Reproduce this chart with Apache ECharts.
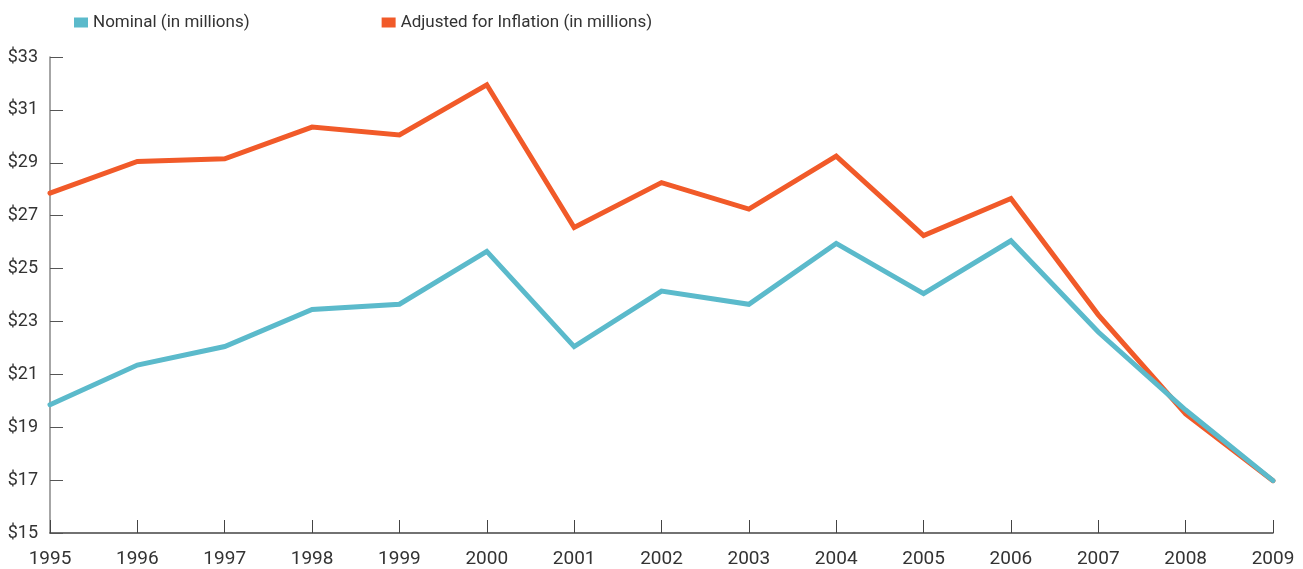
<!DOCTYPE html>
<html>
<head>
<meta charset="utf-8">
<script src="https://cdn.jsdelivr.net/npm/echarts@6/dist/echarts.min.js"></script>
<style>
    html, body {margin: 0; padding: 0; background: #ffffff;}
    #chart {width: 1303px; height: 569px;}
</style>
</head>
<body>
<div id="chart"></div>
<script>
const years = ['1995','1996','1997','1998','1999','2000','2001','2002','2003','2004','2005','2006','2007','2008','2009'];
const nominal = [19.85, 21.35, 22.05, 23.45, 23.65, 25.65, 22.05, 24.15, 23.65, 25.95, 24.05, 26.05, 22.6, 19.65, 16.98];
const adjusted = [27.85, 29.05, 29.15, 30.35, 30.05, 31.95, 26.55, 28.25, 27.25, 29.25, 26.25, 27.65, 23.25, 19.5, 16.98];
const yTicks = {min: 15, max: 33, step: 2};

const fontName = 'Roboto, "Noto Sans", sans-serif';
const chart = echarts.init(document.getElementById('chart'));

const option = {
    animation: false,
    legend: {
        left: 69,
        top: 9,
        icon: 'rect',
        itemWidth: 14,
        itemHeight: 10,
        itemGap: 132,
        textStyle: {
            color: '#333333',
            fontSize: 17,
            fontFamily: fontName
        },
        data: ['Nominal (in millions)', 'Adjusted for Inflation (in millions)']
    },
    grid: {
        left: 50,
        right: 30,
        top: 57,
        bottom: 35,
        containLabel: false
    },
    xAxis: {
        type: 'category',
        boundaryGap: false,
        data: years,
        axisLine: {lineStyle: {color: '#444444', width: 1.5}},
        axisTick: {show: true, inside: true, length: 13, lineStyle: {color: '#444444'}},
        axisLabel: {
            color: '#333333',
            fontSize: 19,
            fontFamily: fontName,
            margin: 17,
            interval: 0
        },
        splitLine: {show: false}
    },
    yAxis: {
        type: 'value',
        min: yTicks.min,
        max: yTicks.max,
        interval: yTicks.step,
        axisLine: {show: true, lineStyle: {color: '#888888', width: 1.5}},
        axisTick: {show: true, inside: true, length: 13, lineStyle: {color: '#555555'}},
        axisLabel: {
            color: '#333333',
            fontSize: 18,
            fontFamily: fontName,
            margin: 12,
            formatter: '${value}'
        },
        splitLine: {show: false}
    },
    series: [
        {
            name: 'Adjusted for Inflation (in millions)',
            type: 'line',
            data: adjusted,
            color: '#F15A29',
            symbol: 'none',
            lineStyle: {width: 5, cap: 'round', join: 'miter'},
            z: 2
        },
        {
            name: 'Nominal (in millions)',
            type: 'line',
            data: nominal,
            color: '#5BBACB',
            symbol: 'none',
            lineStyle: {width: 5, cap: 'round', join: 'miter'},
            z: 3
        }
    ]
};
chart.setOption(option);
</script>
</body>
</html>
